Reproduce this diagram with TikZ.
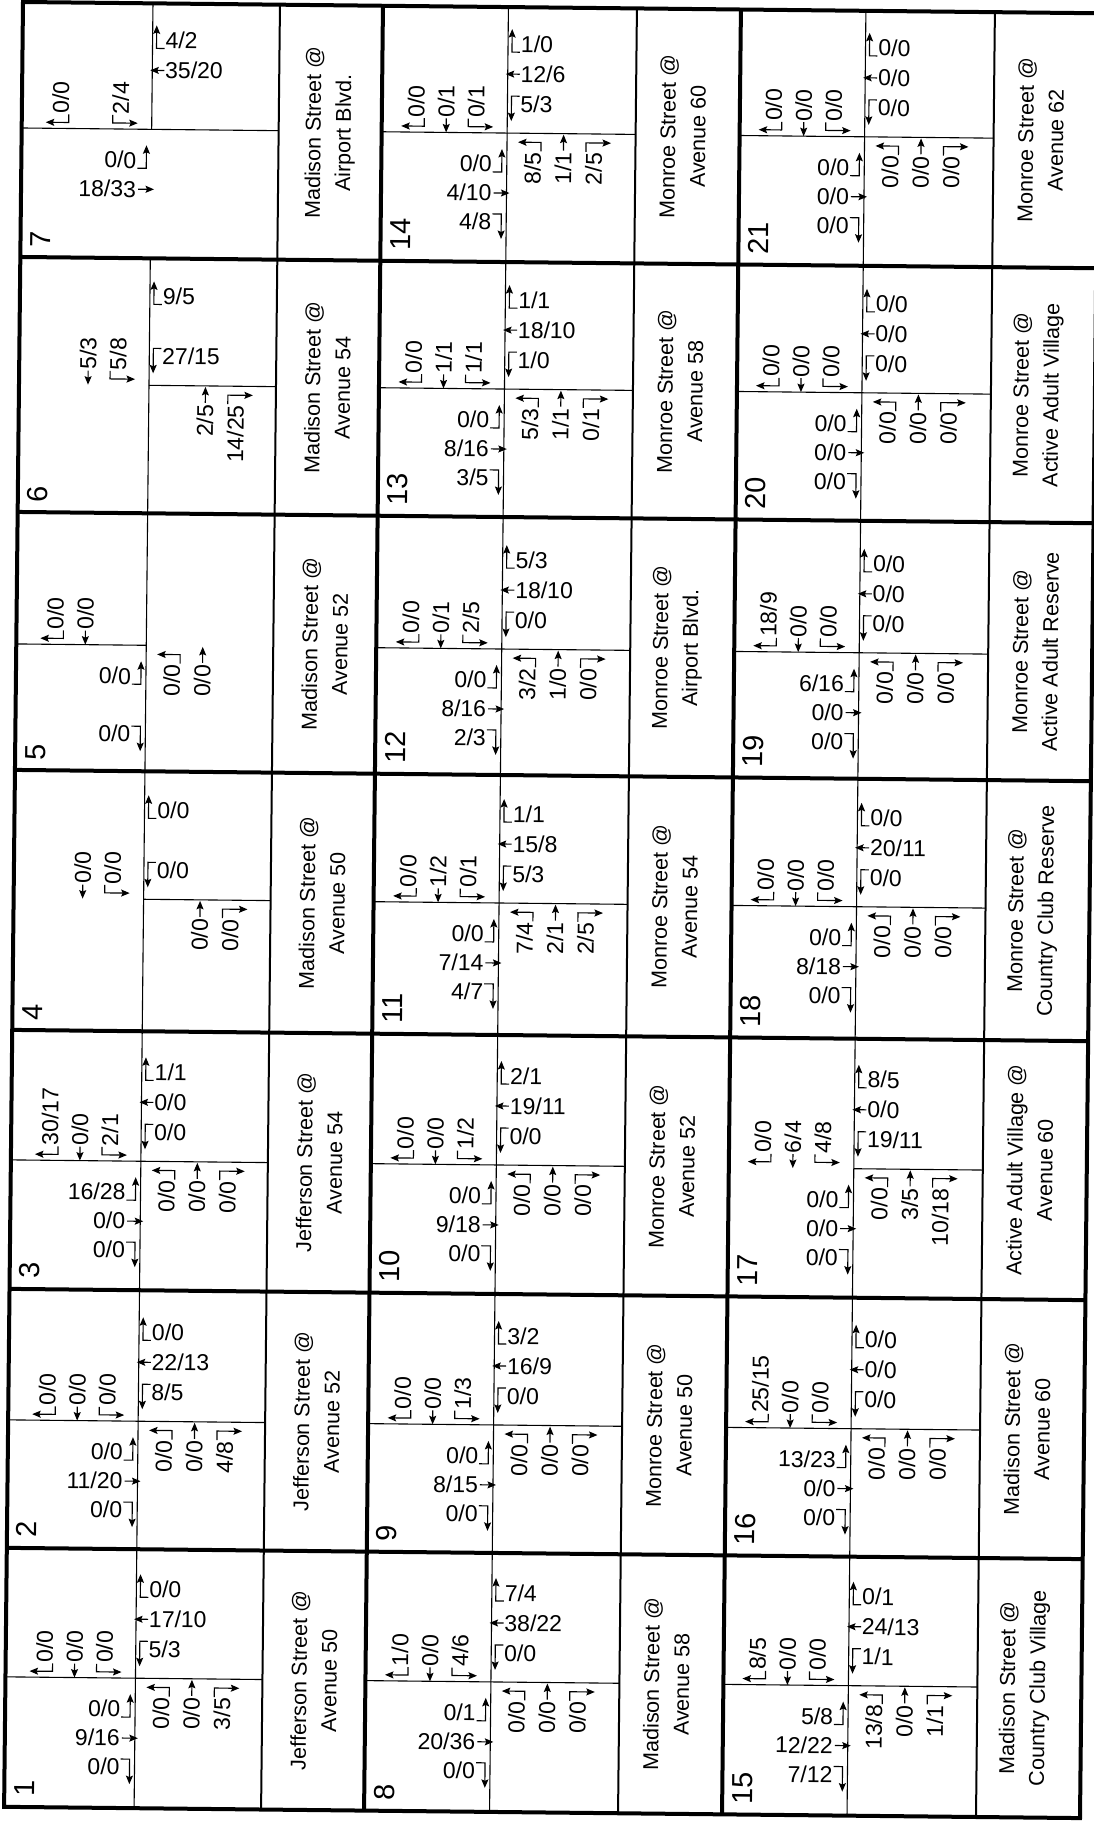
\documentclass[tikz,border=0pt]{standalone}
\usepackage{fontspec}
\setmainfont{Liberation Sans}
\usetikzlibrary{arrows.meta}
% arrows in the text frame: leading (before the text) and trailing (after it)
\newcommand\leadarr[1]{\ifcase#1\or
  \draw[arr] (-1,0) -- (-9,0) -- (-9,23);\or
  \draw[arr] (-1,8) -- (-15,8);\or
  \draw[arr] (-1,16) -- (-9,16) -- (-9,-9);\fi}
\newcommand\trailarr[1]{\ifcase#1\or
  \draw[arr] (1,0) -- (10,0) -- (10,23);\or
  \draw[arr] (2,8) -- (18,8);\or
  \draw[arr] (1,16) -- (10,16) -- (10,-9);\fi}
% four approach groups
\newcommand\WBg[2]{\begin{scope}[shift={({\mycx+13},{-(\mycy-81+30*(#1-1))})}]
  \node[num,anchor=base west] (\cid w#1) at (0,0) {#2};\leadarr{#1}\end{scope}}
\newcommand\SBg[2]{\begin{scope}[shift={({\mycx-83+30*(#1-1)},{-(\mycy-15)})},rotate=90]
  \node[num,anchor=base west] (\cid s#1) at (0,0) {#2};\leadarr{#1}\end{scope}}
\newcommand\EBg[2]{\begin{scope}[shift={({\mycx-15},{-(\mycy+39+29*(#1-1))})}]
  \node[num,anchor=base east] (\cid e#1) at (0,0) {#2};\trailarr{#1}\end{scope}}
\newcommand\NBg[2]{\begin{scope}[shift={({\mycx+34+30.5*(#1-1)},{-(\mycy+19)})},rotate=90]
  \node[num,anchor=base east] (\cid n#1) at (0,0) {#2};\trailarr{#1}\end{scope}}
\newcommand\SWg[6]{\SBg1{#1}\SBg2{#2}\SBg3{#3}\WBg1{#4}\WBg2{#5}\WBg3{#6}}
\newcommand\ENg[6]{\EBg1{#1}\EBg2{#2}\EBg3{#3}\NBg1{#4}\NBg2{#5}\NBg3{#6}}
% cross lines
\newcommand\xVfull{\draw[crossln] (\mycx,0) -- (\mycx,-\myH);}
\newcommand\xVtop{\draw[crossln] (\mycx,0) -- (\mycx,-\mycy);}
\newcommand\xHfull{\draw[crossln] (0,-\mycy) -- (\mydw,-\mycy);}
\newcommand\xHleft{\draw[crossln] (0,-\mycy) -- (\mycx,-\mycy);}
\newcommand\xHright{\draw[crossln] (\mycx,-\mycy) -- (\mydw,-\mycy);}
% cell frame
\newcommand\Cell[3]{%
  \ifcase#2 \def\myuo{0}\def\mycw{360}\def\mydw{257}\def\mycx{130}\def\mylo{0}%
  \or \def\myuo{360}\def\mycw{358}\def\mydw{254}\def\mycx{125.5}\def\mylo{-5}%
  \or \def\myuo{718}\def\mycw{358}\def\mydw{254}\def\mycx{125}\def\mylo{-5}\fi
  \ifcase#3 \def\myvo{0}\def\myH{255}\def\mycy{126}%
  \or \def\myvo{255}\def\myH{255}\def\mycy{127}%
  \or \def\myvo{510}\def\myH{258}\def\mycy{132}%
  \or \def\myvo{768}\def\myH{260}\def\mycy{128}%
  \or \def\myvo{1028}\def\myH{259}\def\mycy{130}%
  \or \def\myvo{1287}\def\myH{259}\def\mycy{131}%
  \or \def\myvo{1546}\def\myH{259}\def\mycy{129}\fi
  \def\cid{c#1}%
  \begin{scope}[shift={(\myuo,-\myvo)}]
  \node[cnum,rotate=90,anchor=base west] (\cid num) at (30,{-(\myH-10)}) {#1};}
\newcommand\clabel[2]{\node[lab,rotate=90] (\cid lab) at ({\mydw+(\mycw-\mydw)/2+\mylo},{-\myH/2}) {#1\\#2};}
\newcommand\EndCell{\end{scope}}
\begin{document}
\begin{tikzpicture}[x=1pt,y=1pt,
  num/.style={font=\fontsize{23}{26}\selectfont, inner sep=0pt, outer sep=0pt, transform shape},
  lab/.style={font=\fontsize{21.5}{30}\selectfont, align=center, inner sep=0pt, transform shape},
  cnum/.style={font=\fontsize{29}{30}\selectfont, inner sep=0pt, transform shape},
  arr/.style={line width=1.15pt, line join=miter, -{Stealth[length=8.5pt,width=7pt,inset=1.5pt]}},
  thickln/.style={line width=4pt},
  divln/.style={line width=2pt},
  crossln/.style={line width=1.1pt}]
\useasboundingbox (0,0) rectangle (1093,-1822);
\fill[white] (0,0) rectangle (1093,-1822);
\begin{scope}[shift={(23,-2)}, rotate=-0.6]
% grid
\foreach \u in {257,614,972} \draw[divln] (\u,0) -- (\u,-1805);
\foreach \v in {255,510,768,1028,1287,1546} \draw[thickln] (0,-\v) -- (1076,-\v);
\foreach \u in {360,718} \draw[thickln] (\u,0) -- (\u,-1805);
\draw[thickln] (0,0) rectangle (1076,-1805);
% column A
\Cell{7}{0}{0}\xVtop\xHfull
 \SBg1{0/0}\SBg3{2/4}\WBg1{4/2}\WBg2{35/20}\EBg1{0/0}\EBg2{18/33}
 \clabel{Madison Street @}{Airport Blvd.}\EndCell
\Cell{6}{0}{1}\xVfull\xHright
 \SBg2{5/3}\SBg3{5/8}\WBg1{9/5}\WBg3{27/15}\NBg2{2/5}\NBg3{14/25}
 \clabel{Madison Street @}{Avenue 54}\EndCell
\Cell{5}{0}{2}\xVfull\xHleft
 \SBg1{0/0}\SBg2{0/0}\EBg1{0/0}\EBg3{0/0}\NBg1{0/0}\NBg2{0/0}
 \clabel{Madison Street @}{Avenue 52}\EndCell
\Cell{4}{0}{3}\xVfull\xHright
 \SBg2{0/0}\SBg3{0/0}\WBg1{0/0}\WBg3{0/0}\NBg2{0/0}\NBg3{0/0}
 \clabel{Madison Street @}{Avenue 50}\EndCell
\Cell{3}{0}{4}\xVfull\xHfull
 \SWg{30/17}{0/0}{2/1}{1/1}{0/0}{0/0}\ENg{16/28}{0/0}{0/0}{0/0}{0/0}{0/0}
 \clabel{Jefferson Street @}{Avenue 54}\EndCell
\Cell{2}{0}{5}\xVfull\xHfull
 \SWg{0/0}{0/0}{0/0}{0/0}{22/13}{8/5}\ENg{0/0}{11/20}{0/0}{0/0}{0/0}{4/8}
 \clabel{Jefferson Street @}{Avenue 52}\EndCell
\Cell{1}{0}{6}\xVfull\xHfull
 \SWg{0/0}{0/0}{0/0}{0/0}{17/10}{5/3}\ENg{0/0}{9/16}{0/0}{0/0}{0/0}{3/5}
 \clabel{Jefferson Street @}{Avenue 50}\EndCell
% column B
\Cell{14}{1}{0}\xVfull\xHfull
 \SWg{0/0}{0/1}{0/1}{1/0}{12/6}{5/3}\ENg{0/0}{4/10}{4/8}{8/5}{1/1}{2/5}
 \clabel{Monroe Street @}{Avenue 60}\EndCell
\Cell{13}{1}{1}\xVfull\xHfull
 \SWg{0/0}{1/1}{1/1}{1/1}{18/10}{1/0}\ENg{0/0}{8/16}{3/5}{5/3}{1/1}{0/1}
 \clabel{Monroe Street @}{Avenue 58}\EndCell
\Cell{12}{1}{2}\xVfull\xHfull
 \SWg{0/0}{0/1}{2/5}{5/3}{18/10}{0/0}\ENg{0/0}{8/16}{2/3}{3/2}{1/0}{0/0}
 \clabel{Monroe Street @}{Airport Blvd.}\EndCell
\Cell{11}{1}{3}\xVfull\xHfull
 \SWg{0/0}{1/2}{0/1}{1/1}{15/8}{5/3}\ENg{0/0}{7/14}{4/7}{7/4}{2/1}{2/5}
 \clabel{Monroe Street @}{Avenue 54}\EndCell
\Cell{10}{1}{4}\xVfull\xHfull
 \SWg{0/0}{0/0}{1/2}{2/1}{19/11}{0/0}\ENg{0/0}{9/18}{0/0}{0/0}{0/0}{0/0}
 \clabel{Monroe Street @}{Avenue 52}\EndCell
\Cell{9}{1}{5}\xVfull\xHfull
 \SWg{0/0}{0/0}{1/3}{3/2}{16/9}{0/0}\ENg{0/0}{8/15}{0/0}{0/0}{0/0}{0/0}
 \clabel{Monroe Street @}{Avenue 50}\EndCell
\Cell{8}{1}{6}\xVfull\xHfull
 \SWg{1/0}{0/0}{4/6}{7/4}{38/22}{0/0}\ENg{0/1}{20/36}{0/0}{0/0}{0/0}{0/0}
 \clabel{Madison Street @}{Avenue 58}\EndCell
% column C
\Cell{21}{2}{0}\xVfull\xHfull
 \SWg{0/0}{0/0}{0/0}{0/0}{0/0}{0/0}\ENg{0/0}{0/0}{0/0}{0/0}{0/0}{0/0}
 \clabel{Monroe Street @}{Avenue 62}\EndCell
\Cell{20}{2}{1}\xVfull\xHfull
 \SWg{0/0}{0/0}{0/0}{0/0}{0/0}{0/0}\ENg{0/0}{0/0}{0/0}{0/0}{0/0}{0/0}
 \clabel{Monroe Street @}{Active Adult Village}\EndCell
\Cell{19}{2}{2}\xVfull\xHfull
 \SWg{18/9}{0/0}{0/0}{0/0}{0/0}{0/0}\ENg{6/16}{0/0}{0/0}{0/0}{0/0}{0/0}
 \clabel{Monroe Street @}{Active Adult Reserve}\EndCell
\Cell{18}{2}{3}\xVfull\xHfull
 \SWg{0/0}{0/0}{0/0}{0/0}{20/11}{0/0}\ENg{0/0}{8/18}{0/0}{0/0}{0/0}{0/0}
 \clabel{Monroe Street @}{Country Club Reserve}\EndCell
\Cell{17}{2}{4}\xVfull\xHright
 \SWg{0/0}{6/4}{4/8}{8/5}{0/0}{19/11}\ENg{0/0}{0/0}{0/0}{0/0}{3/5}{10/18}
 \clabel{Active Adult Village @}{Avenue 60}\EndCell
\Cell{16}{2}{5}\xVfull\xHfull
 \SWg{25/15}{0/0}{0/0}{0/0}{0/0}{0/0}\ENg{13/23}{0/0}{0/0}{0/0}{0/0}{0/0}
 \clabel{Madison Street @}{Avenue 60}\EndCell
\Cell{15}{2}{6}\xVfull\xHfull
 \SWg{8/5}{0/0}{0/0}{0/1}{24/13}{1/1}\ENg{5/8}{12/22}{7/12}{13/8}{0/0}{1/1}
 \clabel{Madison Street @}{Country Club Village}\EndCell
\end{scope}
\end{tikzpicture}
\end{document}
